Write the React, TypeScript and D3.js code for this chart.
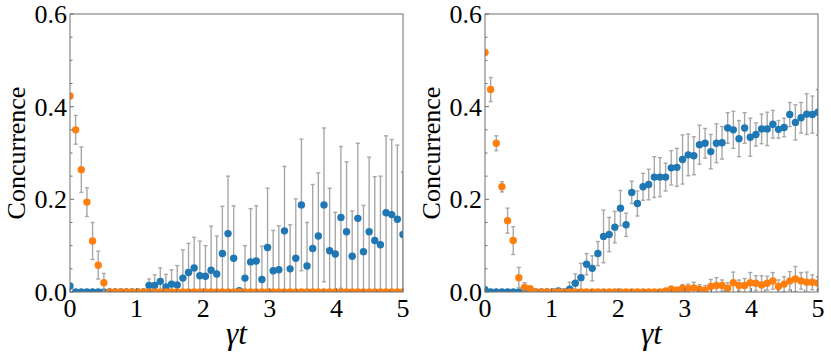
import React from 'react'
import * as d3 from 'd3'

// 60 samples of gamma*t between 0 and 5
const N = 60
const times = d3.range(N).map(i => (i * 5) / (N - 1))

const zeros = (n: number) => new Array(n).fill(0)

// left panel
const leftBlue = [
  0.013, ...zeros(13),
  0.014, 0.014, 0.023, 0.011, 0.017, 0.015, 0.030, 0.042, 0.052, 0.035,
  0.034, 0.047, 0.039, 0.083, 0.126, 0.073, 0.003, 0.030, 0.065, 0.067,
  0.027, 0.096, 0.046, 0.048, 0.132, 0.050, 0.073, 0.188, 0.056, 0.094,
  0.121, 0.188, 0.089, 0.082, 0.161, 0.130, 0.077, 0.159, 0.087, 0.130,
  0.111, 0.102, 0.171, 0.167, 0.157, 0.124,
]
const leftBlueErr = [
  0, ...zeros(13),
  0.014, 0.023, 0.029, 0.027, 0.031, 0.042, 0.061, 0.063, 0.066, 0.075,
  0.066, 0.095, 0.082, 0.102, 0.124, 0.113, 0, 0.070, 0.115, 0.119,
  0.072, 0.128, 0.087, 0.095, 0.139, 0.095, 0.128, 0.142, 0.094, 0.138,
  0.136, 0.166, 0.135, 0.090, 0.153, 0.151, 0.098, 0.162, 0.100, 0.161,
  0.138, 0.148, 0.166, 0.162, 0.160, 0.135,
]
const leftOrange = [0.423, 0.350, 0.264, 0.194, 0.110, 0.058, 0.020, ...zeros(53)]
const leftOrangeErr = [0, 0.031, 0.049, 0.031, 0.040, 0.030, 0.020, ...zeros(53)]

// right panel
const rightBlue = [
  0.005, ...zeros(12),
  0.002, 0.0, 0.006, 0.019, 0.031, 0.060, 0.051, 0.083, 0.120, 0.124,
  0.140, 0.181, 0.145, 0.215, 0.191, 0.227, 0.232, 0.248, 0.248, 0.248,
  0.268, 0.269, 0.286, 0.296, 0.294, 0.318, 0.321, 0.303, 0.321, 0.322,
  0.354, 0.350, 0.331, 0.354, 0.334, 0.340, 0.352, 0.352, 0.362, 0.351,
  0.355, 0.383, 0.366, 0.376, 0.384, 0.383, 0.388,
]
const rightBlueErr = [
  0, ...zeros(12),
  0, 0, 0.015, 0.020, 0.031, 0.023, 0.027, 0.026, 0.057, 0.037,
  0.034, 0.038, 0.025, 0.024, 0.027, 0.029, 0.033, 0.044, 0.042, 0.030,
  0.037, 0.041, 0.053, 0.045, 0.041, 0.042, 0.032, 0.037, 0.042, 0.035,
  0.033, 0.040, 0.039, 0.033, 0.041, 0.025, 0.032, 0.036, 0.030, 0.019,
  0.020, 0.026, 0.038, 0.033, 0.044, 0.040, 0.049,
]
const rightOrange = [
  0.517, 0.437, 0.321, 0.227, 0.154, 0.111, 0.031, 0.010, 0.007, ...zeros(23),
  0.002, 0.006, 0.004, 0.008, 0.007, 0.009, 0.006, 0.004, 0.012, 0.014,
  0.014, 0.008, 0.020, 0.014, 0.014, 0.020, 0.019, 0.015, 0.019, 0.024,
  0.012, 0.017, 0.024, 0.028, 0.024, 0.021, 0.021, 0.019,
]
const rightOrangeErr = [
  0, 0.026, 0.016, 0.011, 0.027, 0.030, 0.022, 0.010, 0.005, ...zeros(23),
  0.004, 0.006, 0.006, 0.008, 0.010, 0.012, 0.010, 0.010, 0.015, 0.017,
  0.012, 0.012, 0.023, 0.012, 0.015, 0.022, 0.016, 0.020, 0.015, 0.018,
  0.014, 0.016, 0.020, 0.027, 0.018, 0.022, 0.016, 0.014,
]

const yTicks = [0, 0.2, 0.4, 0.6]
const xTicks = [0, 1, 2, 3, 4, 5]

const BLUE = '#1f77b4'
const ORANGE = '#ff7f0e'
const textStyle = { fontFamily: "'Liberation Serif', 'Times New Roman', serif", fontSize: 26 }

type Series = { values: number[]; errs: number[]; color: string }

function Panel({ left, series, id }: { left: number; series: Series[]; id: string }) {
  const top = 14
  const bottom = 292
  const width = 333
  const x = d3.scaleLinear().domain([0, 5]).range([left, left + width])
  const y = d3.scaleLinear().domain([0, 0.6]).range([bottom, top])
  const yMinor = d3.range(0, 0.6001, 0.05)
  const xMinor = d3.range(0, 5.0001, 0.2)

  return (
    <g>
      <defs>
        <clipPath id={id}>
          <rect x={left} y={top} width={width} height={bottom - top} />
        </clipPath>
      </defs>
      <g clipPath={`url(#${id})`}>
        {series.map((s, si) => (
          <g key={si}>
            {s.values.map((v, i) =>
              s.errs[i] > 0 ? (
                <g key={i} stroke="#a8a8a8" strokeWidth={1.4}>
                  <line x1={x(times[i])} x2={x(times[i])} y1={y(v - s.errs[i])} y2={y(v + s.errs[i])} />
                  <line x1={x(times[i]) - 2} x2={x(times[i]) + 2} y1={y(v + s.errs[i])} y2={y(v + s.errs[i])} />
                  <line x1={x(times[i]) - 2} x2={x(times[i]) + 2} y1={y(v - s.errs[i])} y2={y(v - s.errs[i])} />
                </g>
              ) : null
            )}
            {s.values.map((v, i) => (
              <circle key={'c' + i} cx={x(times[i])} cy={y(v)} r={3.7} fill={s.color} />
            ))}
          </g>
        ))}
      </g>
      <rect x={left} y={top} width={width} height={bottom - top} fill="none" stroke="#707070" strokeWidth={1} />
      {yMinor.map((t, i) => (
        <line key={'ym' + i} x1={left} x2={left + (i % 4 === 0 ? 4 : 2.5)} y1={y(t)} y2={y(t)} stroke="#707070" />
      ))}
      {xMinor.map((t, i) => (
        <line key={'xm' + i} x1={x(t)} x2={x(t)} y1={bottom} y2={bottom - (i % 5 === 0 ? 4 : 2.5)} stroke="#707070" />
      ))}
      {yTicks.map(t => (
        <text key={'yt' + t} x={left - 3} y={y(t) + 9} textAnchor="end" style={textStyle} fill="#000">
          {d3.format('.1f')(t)}
        </text>
      ))}
      {xTicks.map(t => (
        <text key={'xt' + t} x={x(t)} y={317} textAnchor="middle" style={textStyle} fill="#000">
          {t}
        </text>
      ))}
      <text
        transform={`translate(${left - 45},${(top + bottom) / 2}) rotate(-90)`}
        textAnchor="middle"
        style={textStyle}
        fill="#000"
      >
        Concurrence
      </text>
      <text
        x={left + width / 2}
        y={344}
        textAnchor="middle"
        style={{ ...textStyle, fontSize: 31, fontStyle: 'italic' }}
        fill="#000"
      >
        γt
      </text>
    </g>
  )
}

export default function App() {
  return (
    <svg
      width={831}
      height={356}
      style={{ position: 'fixed', left: 0, top: 0, background: '#fff' }}
    >
      <Panel
        id="clipL"
        left={70}
        series={[
          { values: leftBlue, errs: leftBlueErr, color: BLUE },
          { values: leftOrange, errs: leftOrangeErr, color: ORANGE },
        ]}
      />
      <Panel
        id="clipR"
        left={485}
        series={[
          { values: rightBlue, errs: rightBlueErr, color: BLUE },
          { values: rightOrange, errs: rightOrangeErr, color: ORANGE },
        ]}
      />
    </svg>
  )
}
